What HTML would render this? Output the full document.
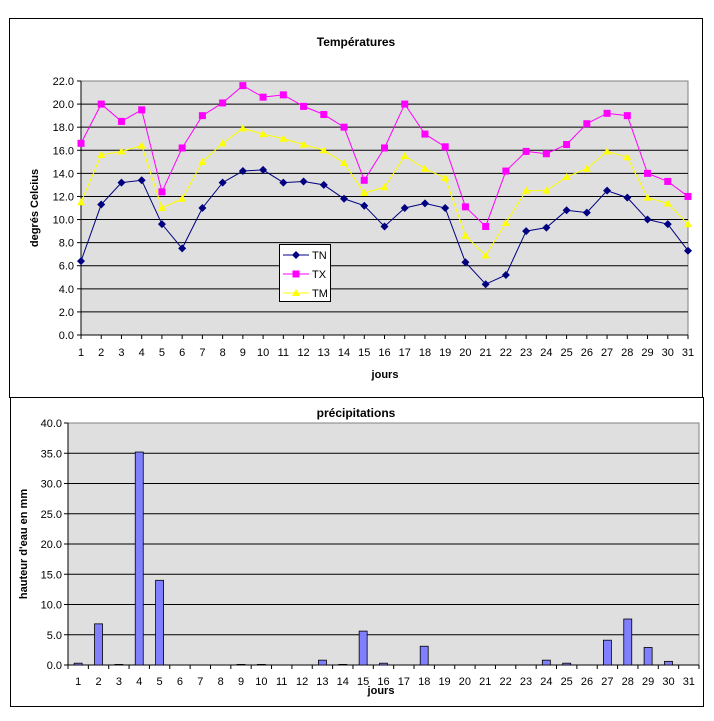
<!DOCTYPE html>
<html><head><meta charset="utf-8"><style>
html,body{margin:0;padding:0;background:#fff}
svg{display:block;font-family:"Liberation Sans",Arial,sans-serif}
</style></head><body>
<svg id="s" width="714" height="721" xmlns="http://www.w3.org/2000/svg"></svg>
<script>
const TN=[6.4,11.3,13.2,13.4,9.6,7.5,11.0,13.2,14.2,14.3,13.2,13.3,13.0,11.8,11.2,9.4,11.0,11.4,11.0,6.3,4.4,5.2,9.0,9.3,10.8,10.6,12.5,11.9,10.0,9.6,7.3];
const TX=[16.6,20.0,18.5,19.5,12.4,16.2,19.0,20.1,21.6,20.6,20.8,19.8,19.1,18.0,13.4,16.2,20.0,17.4,16.3,11.1,9.4,14.2,15.9,15.7,16.5,18.3,19.2,19.0,14.0,13.3,12.0];
const TM=[11.5,15.6,15.9,16.4,11.0,11.8,15.0,16.6,17.9,17.4,17.0,16.5,16.0,14.9,12.3,12.8,15.5,14.4,13.6,8.6,6.9,9.7,12.5,12.5,13.7,14.4,15.9,15.4,11.9,11.4,9.6];
const PR=[0.3,6.8,0.1,35.2,14.0,0,0,0,0.1,0.1,0,0,0.8,0.1,5.6,0.3,0,3.1,0,0,0,0,0,0.8,0.3,0,4.1,7.6,2.9,0.6,0];
let h='';
// frames
h+='<rect x="9.5" y="18.5" width="693" height="379" fill="#fff" stroke="#000"/>';
h+='<rect x="10.5" y="397.5" width="693" height="309" fill="#fff" stroke="#000"/>';
// top plot
const L=81,R=688,T=81,B=335;
const X=i=>L+i*(R-L)/30, Y=v=>B-v*(B-T)/22;
h+=`<rect x="${L}" y="${T}" width="${R-L}" height="${B-T}" fill="#dfdfdf" stroke="#808080"/>`;
for(let v=0;v<=22;v+=2){const y=Y(v);
 if(v>0&&v<22)h+=`<line x1="${L}" x2="${R}" y1="${y}" y2="${y}" stroke="#000"/>`;
 h+=`<line x1="${L-4}" x2="${L}" y1="${y}" y2="${y}" stroke="#000"/>`;
 h+=`<text x="${L-7}" y="${y+4}" font-size="11" text-anchor="end">${v.toFixed(1)}</text>`;}
h+=`<line x1="${L}" x2="${L}" y1="${T}" y2="${B}" stroke="#000"/><line x1="${L}" x2="${R}" y1="${B}" y2="${B}" stroke="#000"/>`;
for(let i=0;i<31;i++){const x=X(i);h+=`<line x1="${x}" x2="${x}" y1="${B}" y2="${B+4}" stroke="#000"/><text x="${x}" y="${B+21}" font-size="11" text-anchor="middle">${i+1}</text>`;}
function line(d,c){return `<polyline fill="none" stroke="${c}" stroke-width="1" points="${d.map((v,i)=>X(i)+','+Y(v)).join(' ')}"/>`;}
h+=line(TM,'#ffff00')+line(TX,'#ff00ff')+line(TN,'#000080');
TM.forEach((v,i)=>{const x=X(i),y=Y(v);h+=`<polygon points="${x},${y-4} ${x-4},${y+3} ${x+4},${y+3}" fill="#ffff00"/>`;});
TX.forEach((v,i)=>{const x=X(i),y=Y(v);h+=`<rect x="${x-3.5}" y="${y-3.5}" width="7" height="7" fill="#ff00ff"/>`;});
TN.forEach((v,i)=>{const x=X(i),y=Y(v);h+=`<polygon points="${x},${y-4} ${x+4},${y} ${x},${y+4} ${x-4},${y}" fill="#000080"/>`;});
h+=`<text x="356" y="46" font-size="12" font-weight="bold" text-anchor="middle">Températures</text>`;
h+=`<text x="385" y="378" font-size="11" font-weight="bold" text-anchor="middle">jours</text>`;
h+=`<text transform="translate(38,208) rotate(-90)" font-size="11" font-weight="bold" text-anchor="middle">degrés Celcius</text>`;
// legend
h+=`<rect x="279.5" y="244.5" width="51" height="57" fill="#fff" stroke="#000"/>`;
[[255,'#000080','TN'],[274,'#ff00ff','TX'],[293,'#ffff00','TM']].forEach(([y,c,t],k)=>{
 h+=`<line x1="283" x2="309" y1="${y}" y2="${y}" stroke="${c}"/>`;
 if(k==0)h+=`<polygon points="296,${y-4} 300,${y} 296,${y+4} 292,${y}" fill="${c}"/>`;
 if(k==1)h+=`<rect x="292.5" y="${y-3.5}" width="7" height="7" fill="${c}"/>`;
 if(k==2)h+=`<polygon points="296,${y-4} 292,${y+3} 300,${y+3}" fill="${c}"/>`;
 h+=`<text x="312" y="${y+4}" font-size="11">${t}</text>`;});
// bottom plot
const L2=68,R2=699,T2=423,B2=665,W=(R2-L2)/31;
const Y2=v=>B2-v*(B2-T2)/40;
h+=`<rect x="${L2}" y="${T2}" width="${R2-L2}" height="${B2-T2}" fill="#dfdfdf" stroke="#808080"/>`;
for(let v=0;v<=40;v+=5){const y=Y2(v);
 if(v>0&&v<40)h+=`<line x1="${L2}" x2="${R2}" y1="${y}" y2="${y}" stroke="#000"/>`;
 h+=`<line x1="${L2-4}" x2="${L2}" y1="${y}" y2="${y}" stroke="#000"/>`;
 h+=`<text x="${L2-6}" y="${y+4}" font-size="11" text-anchor="end">${v.toFixed(1)}</text>`;}
h+=`<line x1="${L2}" x2="${L2}" y1="${T2}" y2="${B2}" stroke="#000"/><line x1="${L2}" x2="${R2}" y1="${B2}" y2="${B2}" stroke="#000"/>`;
for(let i=0;i<=31;i++){const x=L2+i*W;h+=`<line x1="${x}" x2="${x}" y1="${B2}" y2="${B2+4}" stroke="#000"/>`;}
PR.forEach((v,i)=>{const c=L2+(i+0.5)*W;h+=`<text x="${c}" y="${B2+20}" font-size="11" text-anchor="middle">${i+1}</text>`;
 if(v>0){const y=Y2(v);h+=`<rect x="${c-4}" y="${y}" width="8" height="${B2-y}" fill="#8080ff" stroke="#000" stroke-width="0.8"/>`;}});
h+=`<text x="356" y="417" font-size="12" font-weight="bold" text-anchor="middle">précipitations</text>`;
h+=`<text x="381" y="694" font-size="11" font-weight="bold" text-anchor="middle">jours</text>`;
h+=`<text transform="translate(27,544) rotate(-90)" font-size="11" font-weight="bold" text-anchor="middle">hauteur d'eau en mm</text>`;
document.getElementById('s').innerHTML=h;
</script>
</body></html>
